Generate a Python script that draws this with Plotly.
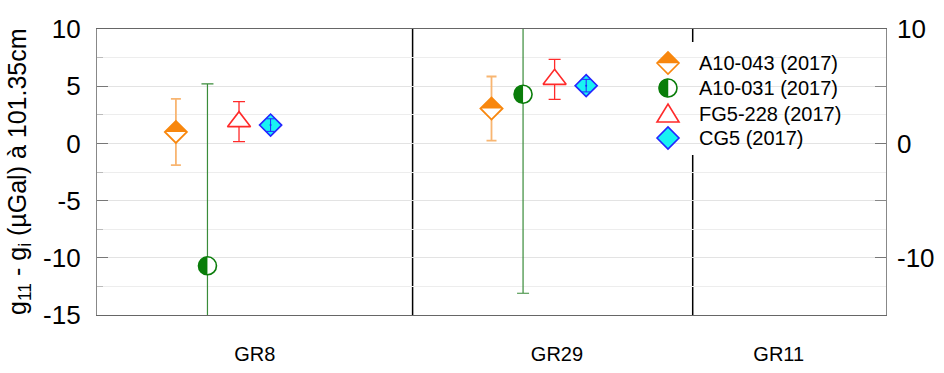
import plotly.graph_objects as go

# ---------------- data ----------------
stations = ["GR8", "GR29", "GR11"]
station_x = [2.0, 5.83, 8.64]
separator_x = [4.0, 7.55]

a043_x = [1.0, 5.0]
a043_y = [1.0, 3.05]
a043_err = [2.9, 2.8]

a031_x = [1.4, 5.4]
a031_y = [-10.7, 4.3]
a031_err = [15.9, 17.4]

fg5_x = [1.8, 5.8]
fg5_y = [1.9, 5.6]
fg5_err = [1.75, 1.75]

cg5_x = [2.2, 6.2]
cg5_y = [1.6, 5.05]
cg5_err = [0.55, 0.55]

legend_names = ["A10-043 (2017)", "A10-031 (2017)", "FG5-228 (2017)", "CG5 (2017)"]

left_tickvals = [-15, -10, -5, 0, 5, 10]
left_ticktext = ["-15", "-10", "-5", "0", "5", "10"]
right_tickvals = [-10, 0, 10]
right_ticktext = ["-10", "0", "10"]

# ---------------- styles ----------------
ORANGE = "#F8870E"
ORANGE_LIGHT = "#F8B571"
GREEN = "#0A7D0A"
GREEN_BAR = "#3A8C3A"
RED = "#FF2A2A"
CYAN = "#18F2F2"
BLUE = "#2424FF"
FONT = "Liberation Sans, Arial, sans-serif"

fig = go.Figure()

fig.add_trace(go.Scatter(
    x=a043_x, y=a043_y, mode="markers", name=legend_names[0], showlegend=False,
    marker=dict(symbol="diamond", size=17, color="white", line=dict(color=ORANGE, width=1.8)),
    error_y=dict(type="data", array=a043_err, color=ORANGE_LIGHT, thickness=1.8, width=5)))

fig.add_trace(go.Scatter(
    x=a031_x, y=a031_y, mode="markers", name=legend_names[1], showlegend=False,
    marker=dict(symbol="circle", size=18, color="white", line=dict(color=GREEN, width=1.6)),
    error_y=dict(type="data", array=a031_err, color=GREEN_BAR, thickness=1.2, width=6)))

fig.add_trace(go.Scatter(
    x=fg5_x, y=fg5_y, mode="markers", name=legend_names[2], showlegend=False,
    marker=dict(symbol="triangle-up", size=20, color="white", line=dict(color=RED, width=1.6)),
    error_y=dict(type="data", array=fg5_err, color=RED, thickness=1.3, width=6)))

fig.add_trace(go.Scatter(
    x=cg5_x, y=cg5_y, mode="markers", name=legend_names[3], showlegend=False,
    marker=dict(symbol="diamond", size=17, color=CYAN, line=dict(color=BLUE, width=1.6))))
fig.add_trace(go.Scatter(
    x=cg5_x, y=cg5_y, mode="markers", showlegend=False,
    marker=dict(symbol="circle", size=2, color=BLUE),
    error_y=dict(type="data", array=cg5_err, color=BLUE, thickness=1, width=4)))

# dummy trace on the right axis so it renders
fig.add_trace(go.Scatter(x=[None], y=[None], yaxis="y2", showlegend=False))

shapes = []
# station separators
for sx in separator_x:
    shapes.append(dict(type="line", xref="x", yref="paper", x0=sx, x1=sx, y0=0, y1=1,
                       line=dict(color="black", width=1.5), layer="between"))

# half fills on data markers
top_half_diamond = "M -11,0 L 0,11 L 11,0 Z"
k = 0.5523
r = 9
left_half_circle = (f"M 0,{r} C {-k*r:.2f},{r} {-r},{k*r:.2f} {-r},0 "
                    f"C {-r},{-k*r:.2f} {-k*r:.2f},{-r} 0,{-r} Z")
for xv, yv in zip(a043_x, a043_y):
    shapes.append(dict(type="path", xref="x", yref="y", xsizemode="pixel", ysizemode="pixel",
                       xanchor=xv, yanchor=yv, path=top_half_diamond,
                       fillcolor=ORANGE, line=dict(width=0), layer="above"))
for xv, yv in zip(a031_x, a031_y):
    shapes.append(dict(type="path", xref="x", yref="y", xsizemode="pixel", ysizemode="pixel",
                       xanchor=xv, yanchor=yv, path=left_half_circle,
                       fillcolor=GREEN, line=dict(width=0), layer="above"))

# manual legend
L, R, T, B = 97, 886, 29, 315
W, H = R - L, B - T
def px(xp):
    return (xp - L) / W
def py(yp):
    return (B - yp) / H

shapes.append(dict(type="rect", xref="paper", yref="paper", x0=px(620), x1=px(870),
                   y0=py(155), y1=py(42), fillcolor="white", line=dict(width=0), layer="between"))

sym_x = px(668)
rows_y = [py(63), py(88), py(114), py(138)]
full_diamond = "M -11,0 L 0,11 L 11,0 L 0,-11 Z"
triangle = "M -11,-8 L 11,-8 L 0,10 Z"

def lshape(path, ya, fill, line_color, lw=1.6):
    return dict(type="path", xref="paper", yref="paper", xsizemode="pixel", ysizemode="pixel",
                xanchor=sym_x, yanchor=ya, path=path, fillcolor=fill,
                line=dict(color=line_color, width=lw), layer="above")

shapes.append(lshape(full_diamond, rows_y[0], "white", ORANGE))
shapes.append(lshape(top_half_diamond, rows_y[0], ORANGE, ORANGE, 0.5))
shapes.append(dict(type="circle", xref="paper", yref="paper", xsizemode="pixel", ysizemode="pixel",
                   xanchor=sym_x, yanchor=rows_y[1], x0=-9, x1=9, y0=-9, y1=9,
                   fillcolor="white", line=dict(color=GREEN, width=1.6), layer="above"))
shapes.append(lshape(left_half_circle, rows_y[1], GREEN, GREEN, 0.5))
shapes.append(lshape(triangle, rows_y[2], "white", RED))
shapes.append(lshape(full_diamond, rows_y[3], CYAN, BLUE))

annotations = []
for name, ya in zip(legend_names, rows_y):
    annotations.append(dict(xref="paper", yref="paper", x=px(697), y=ya, text=name,
                            xanchor="left", yanchor="middle", showarrow=False,
                            font=dict(family=FONT, size=20, color="black")))

annotations.append(dict(xref="paper", yref="paper", x=0, y=0.5, xshift=-78,
                        text="g<sub>11</sub> - g<sub>i</sub> (µGal) à 101.35cm",
                        textangle=-90, showarrow=False, xanchor="center", yanchor="middle",
                        font=dict(family=FONT, size=25, color="black")))

fig.update_layout(
    width=944, height=373,
    margin=dict(l=L, r=944 - R, t=T, b=373 - B, autoexpand=False),
    paper_bgcolor="white", plot_bgcolor="white",
    showlegend=False,
    shapes=shapes, annotations=annotations,
    font=dict(family=FONT, color="black"),
    xaxis=dict(range=[0, 10], showgrid=False, zeroline=False,
               tickvals=station_x, ticktext=stations, ticks="",
               tickfont=dict(size=20, family=FONT), ticklabelstandoff=21,
               showline=True, linecolor="#666666", linewidth=1.2, mirror=True),
    yaxis=dict(range=[-15, 10], tickvals=left_tickvals, ticktext=left_ticktext, zeroline=False,
               showgrid=True, gridcolor="#E3E3E3", gridwidth=1,
               ticks="inside", ticklen=11, tickcolor="#777777",
               tickfont=dict(size=26, family=FONT), ticklabelstandoff=10,
               showline=True, linecolor="#888888", linewidth=1.2, mirror=True,
               minor=dict(dtick=2.5, tick0=0, showgrid=True, gridcolor="#EDEDED",
                          ticks="inside", ticklen=6, tickcolor="#BBBBBB")),
    yaxis2=dict(range=[-15, 10], overlaying="y", side="right", showgrid=False, zeroline=False,
                tickvals=right_tickvals, ticktext=right_ticktext,
                ticks="inside", ticklen=11, tickcolor="#777777",
                tickfont=dict(size=26, family=FONT), ticklabelstandoff=10,
                minor=dict(dtick=5, tick0=0, ticks="inside", ticklen=11, tickcolor="#888888")),
)

fig.write_html("out.html", config={"displayModeBar": False},
               post_script="document.body.style.margin='0px';document.body.style.overflow='hidden';")
